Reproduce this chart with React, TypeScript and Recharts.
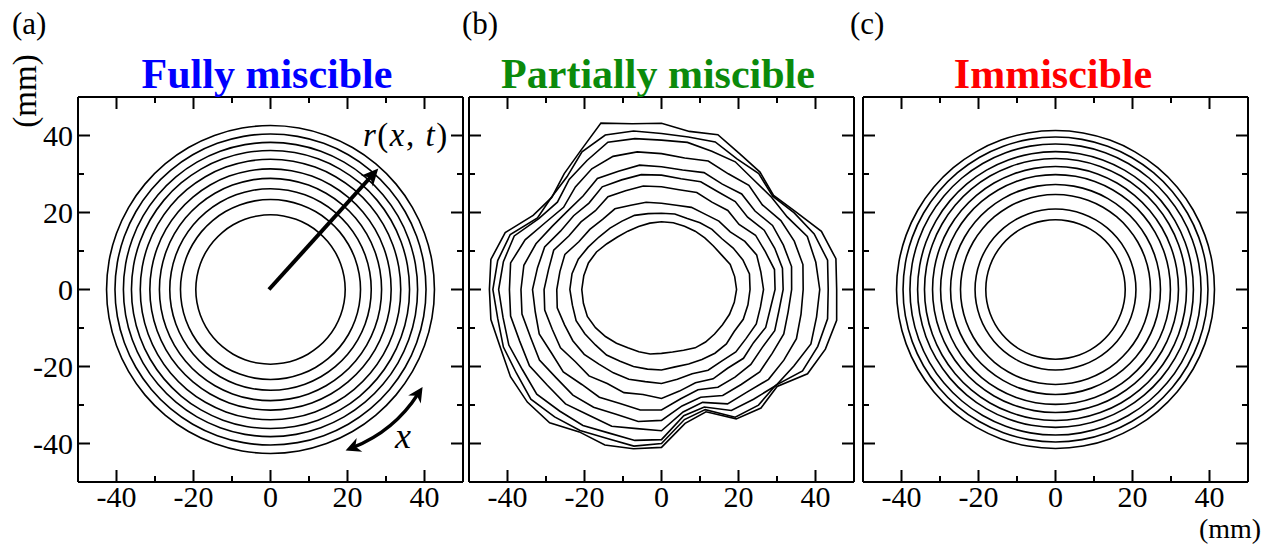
import React from 'react';
import { LineChart, Line, XAxis, YAxis, ReferenceLine } from 'recharts';

// polar sampling angles (degrees) used for every contour
const ANGLES = [0, 10, 20, 30, 40, 50, 60, 70, 80, 90, 100, 110, 120, 130, 140, 150, 160, 170,
  180, 190, 200, 210, 220, 230, 240, 250, 260, 270, 280, 290, 300, 310, 320, 330, 340, 350];

const TICKS = [-40, -30, -20, -10, 0, 10, 20, 30, 40];
const MAJOR_TICKS = [-40, -20, 0, 20, 40];

// (a) fully miscible: near-circular fronts, radius in mm
const RADII_A = [19.5, 23.5, 26.3, 29, 31.5, 34, 36.3, 38.4, 40.6, 42.8];

// (c) immiscible: circular fronts, radius in mm
const RADII_C = [18.2, 21, 24.8, 27.4, 30, 32.1, 34.2, 36, 38, 39.8, 41.5];

// (b) partially miscible: radius (mm) at each angle of ANGLES, one array per front
const B_RING_1 = [19.5, 19.3, 19, 18, 17.6, 17.5, 17.5, 17.5, 17.6, 17.6, 17.5, 17.4, 17.5, 17.8, 18.5, 19.5, 20.2, 20.5, 20.7, 20.6, 20.5, 19.8, 19, 18.2, 17.5, 17.2, 17, 16.6, 16.5, 16.8, 17.5, 17.8, 18, 18.3, 18.8, 19.2];
const B_RING_2 = [23, 23.2, 22.5, 21.5, 20.5, 20.4, 20, 19.6, 19.9, 19.8, 20, 20.5, 20.5, 20.8, 21.2, 22, 23, 23.6, 23.8, 23.5, 23.6, 23, 22.4, 22.2, 21.5, 21.3, 21, 20.9, 20.4, 20.6, 21, 21.6, 22, 21.8, 22.6, 22.8];
const B_RING_3 = [26.5, 26.2, 26.3, 25, 23.3, 23.2, 22.6, 22.7, 22.2, 22.4, 23, 23.3, 24.2, 23.8, 24.3, 24.8, 26.7, 26.8, 27.2, 27.5, 26.8, 26.6, 26.2, 25.3, 25, 24.8, 24.3, 24.4, 23.7, 23.3, 24.2, 24.3, 25.2, 25.4, 26.2, 26.1];
const B_RING_4 = [29.5, 29.8, 28.7, 28.2, 26.3, 26.8, 26.2, 26.8, 26.3, 26.7, 27.3, 27.3, 27.8, 26.7, 27.3, 27.8, 29.8, 29.8, 30.5, 30.8, 30.2, 30.3, 29.2, 29.3, 28.2, 28.5, 27.7, 28.3, 26.8, 25.8, 26.8, 26.7, 27.8, 27.6, 28.8, 28.7];
const B_RING_5 = [31.6, 31.9, 31.3, 30.8, 29.2, 29.8, 29.3, 29.8, 29.2, 29.7, 30.3, 30.3, 30.8, 29.3, 29.8, 30.3, 32.3, 32.7, 33.5, 33.3, 33.8, 33, 33.3, 32.2, 32.3, 31.5, 31.8, 31.3, 28.8, 27.7, 29.3, 29.7, 30.3, 30.2, 31.3, 31];
const B_RING_6 = [33.8, 34.3, 33.7, 33.3, 31.7, 32.4, 31.6, 32.3, 31.5, 31.9, 32.8, 32.7, 33.3, 31.7, 31.8, 32.8, 34.7, 36.3, 36.5, 36.8, 36.2, 36.6, 35.7, 35.8, 35.3, 34.5, 34.8, 34, 30.7, 29.8, 31.8, 32.2, 33.3, 33.2, 33.8, 33.4];
const B_RING_7 = [36.8, 37.3, 36.7, 35.8, 34.2, 35.3, 34.7, 35.5, 34.7, 35.3, 36.3, 36.8, 36.2, 34.8, 33.2, 34.8, 37.7, 39.8, 39.5, 39.8, 39.2, 39.6, 38.7, 38.8, 37.7, 37.8, 36.7, 36.7, 32.3, 31.2, 34.3, 34.7, 36.3, 36.7, 37.3, 36.8];
const B_RING_8 = [41.1, 40.7, 40.3, 37.7, 37.3, 37.2, 38.3, 38.2, 38.8, 38.8, 39.8, 40.7, 38.7, 37.3, 35.3, 36.8, 40.7, 41.7, 42.3, 41.8, 42.2, 41.7, 42.3, 41.2, 40.8, 39.7, 39.8, 39, 33.3, 32.5, 36.3, 37.2, 38.8, 39.7, 41.3, 40.9];
const B_RING_9 = [43.3, 43.8, 42.2, 39.8, 37.7, 39.3, 39.2, 40.8, 40.2, 40.5, 41.8, 42.7, 41.3, 38.2, 37.3, 37.2, 41.8, 43.2, 43.8, 43.2, 43.7, 43.5, 44.3, 43.2, 42.3, 41.2, 41.3, 40, 34.3, 33.2, 38.3, 39.2, 38.7, 42.3, 43.2, 43.8];
const B_RING_10 = [45.5, 46, 44.2, 40.3, 38, 39.8, 40.7, 42.8, 41.7, 43.2, 43.7, 46, 41.8, 39.3, 37.2, 38.5, 43.2, 45, 44.7, 45, 44.5, 45.3, 45.5, 45.2, 42.7, 43, 42, 41, 35.3, 33.8, 38.8, 40.2, 39.2, 43.8, 45.3, 46.2];

const RINGS_B = [B_RING_1, B_RING_2, B_RING_3, B_RING_4, B_RING_5, B_RING_6, B_RING_7, B_RING_8, B_RING_9, B_RING_10];

const W = 1274;
const H = 545;
const TOP = 97;
const BOTTOM = 482;
const AX = 1; // axis band size, kept tiny so margins place the frame
const FONT = '"Liberation Serif", "Times New Roman", serif';

const rad = (d: number) => (d * Math.PI) / 180;
const fromRadii = (radii: number[]) =>
  radii.map((r, i) => ({ x: r * Math.cos(rad(ANGLES[i])), y: r * Math.sin(rad(ANGLES[i])) }));
const fromRadius = (r: number) => fromRadii(ANGLES.map(() => r));

// inward ticks; labels only on major ticks
const makeTick = (side: string, withLabel: boolean) => (props: any) => {
  const { x, y, payload } = props;
  const v = payload.value;
  const len = MAJOR_TICKS.includes(v) ? 12 : 6;
  let x2 = x, y2 = y;
  if (side === 'bottom') y2 = y - len;
  if (side === 'top') y2 = y + len;
  if (side === 'left') x2 = x + len;
  if (side === 'right') x2 = x - len;
  const showLabel = withLabel && MAJOR_TICKS.includes(v);
  return (
    <g>
      <line x1={x} y1={y} x2={x2} y2={y2} stroke="#000" strokeWidth={2} />
      {showLabel && side === 'bottom' && (
        <text x={x} y={y + 25} textAnchor="middle" fontFamily={FONT} fontSize={30} fill="#000">{v}</text>
      )}
      {showLabel && side === 'left' && (
        <text x={x - 5} y={y + 10} textAnchor="end" fontFamily={FONT} fontSize={30} fill="#000">{v}</text>
      )}
    </g>
  );
};

const arrowHead = (tx: number, ty: number, ang: number, len: number, half: number) => {
  const c = Math.cos(ang), s = Math.sin(ang);
  const bx = tx - len * c, by = ty - len * s;
  const mx = tx - len * 0.7 * c, my = ty - len * 0.7 * s;
  return `M${tx},${ty} L${bx - s * half},${by + c * half} L${mx},${my} L${bx + s * half},${by - c * half} Z`;
};

const StraightArrow = (p: any) => {
  const { x1, y1, x2, y2 } = p;
  const ang = Math.atan2(y2 - y1, x2 - x1);
  const ex = x2 - 10 * Math.cos(ang), ey = y2 - 10 * Math.sin(ang);
  return (
    <g>
      <line x1={x1} y1={y1} x2={ex} y2={ey} stroke="#000" strokeWidth={4} />
      <path d={arrowHead(x2, y2, ang, 17, 8)} fill="#000" />
    </g>
  );
};

const CurvedArrow = (p: any) => {
  const { x1, y1, x2, y2 } = p;
  const dx = x2 - x1, dy = y2 - y1;
  const d = Math.hypot(dx, dy);
  const cx = (x1 + x2) / 2 + (-dy / d) * 16;
  const cy = (y1 + y2) / 2 + (dx / d) * 16;
  const a1 = Math.atan2(y1 - cy, x1 - cx);
  const a2 = Math.atan2(y2 - cy, x2 - cx);
  const s1x = x1 - 8 * Math.cos(a1), s1y = y1 - 8 * Math.sin(a1);
  const s2x = x2 - 8 * Math.cos(a2), s2y = y2 - 8 * Math.sin(a2);
  return (
    <g>
      <path d={`M${s1x},${s1y} Q${cx},${cy} ${s2x},${s2y}`} fill="none" stroke="#000" strokeWidth={3.5} />
      <path d={arrowHead(x1, y1, a1, 15, 7.5)} fill="#000" />
      <path d={arrowHead(x2, y2, a2, 15, 7.5)} fill="#000" />
    </g>
  );
};

const axisLine = { stroke: '#000', strokeWidth: 2 };

function Panel({ left, right, rings, curve, yLabels, children }: any) {
  const margin = { top: TOP - AX, bottom: H - BOTTOM - AX, left: left - AX, right: W - right - AX };
  return (
    <div style={{ position: 'absolute', left: 0, top: 0 }}>
      <LineChart width={W} height={H} margin={margin}>
        <XAxis xAxisId="b" orientation="bottom" type="number" dataKey="x" domain={[-50, 50]} allowDataOverflow
          ticks={TICKS} interval={0} height={AX} tickSize={0} tickMargin={0} tickLine={false}
          axisLine={axisLine} tick={makeTick('bottom', true)} />
        <XAxis xAxisId="t" orientation="top" type="number" dataKey="x" domain={[-50, 50]} allowDataOverflow
          ticks={TICKS} interval={0} height={AX} tickSize={0} tickMargin={0} tickLine={false}
          axisLine={axisLine} tick={makeTick('top', false)} />
        <YAxis yAxisId="l" orientation="left" type="number" dataKey="y" domain={[-50, 50]} allowDataOverflow
          ticks={TICKS} interval={0} width={AX} tickSize={0} tickMargin={0} tickLine={false}
          axisLine={axisLine} tick={makeTick('left', yLabels)} />
        <YAxis yAxisId="r" orientation="right" type="number" dataKey="y" domain={[-50, 50]} allowDataOverflow
          ticks={TICKS} interval={0} width={AX} tickSize={0} tickMargin={0} tickLine={false}
          axisLine={axisLine} tick={makeTick('right', false)} />
        {rings.map((pts: any, i: number) => (
          <Line key={i} xAxisId="b" yAxisId="l" data={pts} dataKey="y" type={curve}
            stroke="#000" strokeWidth={1.6} dot={false} activeDot={false} isAnimationActive={false} />
        ))}
        {children}
      </LineChart>
    </div>
  );
}

export default function App() {
  const ringsA = RADII_A.map(fromRadius);
  const ringsB = RINGS_B.map(fromRadii);
  const ringsC = RADII_C.map(fromRadius);
  const title = { fontFamily: FONT, fontSize: 42, fontWeight: 'bold' as const, textAnchor: 'middle' as const };
  const small = { fontFamily: FONT, fontSize: 31, fill: '#000' };
  return (
    <div style={{ position: 'absolute', left: 0, top: 0, width: W, height: H, background: '#fff' }}>
      <Panel left={78} right={463} rings={ringsA} curve="basisClosed" yLabels>
        <ReferenceLine xAxisId="b" yAxisId="l" segment={[{ x: -0.4, y: 0 }, { x: 28, y: 31.4 }]}
          ifOverflow="visible" shape={StraightArrow} />
        <ReferenceLine xAxisId="b" yAxisId="l" segment={[{ x: 19.5, y: -41.8 }, { x: 39.5, y: -25.3 }]}
          ifOverflow="visible" shape={CurvedArrow} />
      </Panel>
      <Panel left={469} right={854} rings={ringsB} curve="linearClosed" yLabels={false} />
      <Panel left={863} right={1248} rings={ringsC} curve="basisClosed" yLabels={false} />
      <svg width={W} height={H} style={{ position: 'absolute', left: 0, top: 0, pointerEvents: 'none' }}>
        <text x={12} y={34} {...small}>(a)</text>
        <text x={462} y={34} {...small}>(b)</text>
        <text x={850} y={34} {...small}>(c)</text>
        <text x={267} y={88} fill="#0000ff" {...title}>Fully miscible</text>
        <text x={658} y={88} fill="#0b8a0b" {...title}>Partially miscible</text>
        <text x={1053} y={88} fill="#ff0000" {...title}>Immiscible</text>
        <text x={36} y={91} transform="rotate(-90 36 91)" textAnchor="middle" fontFamily={FONT} fontSize={33} fill="#000">(mm)</text>
        <text x={1230} y={538} textAnchor="middle" fontFamily={FONT} fontSize={28} fill="#000">(mm)</text>
        <text x={363} y={146} fontFamily={FONT} fontSize={33} letterSpacing={1.5} fill="#000">
          <tspan fontStyle="italic">r</tspan>
          <tspan>(</tspan>
          <tspan fontStyle="italic">x</tspan>
          <tspan>, </tspan>
          <tspan fontStyle="italic">t</tspan>
          <tspan>)</tspan>
        </text>
        <text x={395} y={448} fontFamily={FONT} fontSize={36} fontStyle="italic" fill="#000">x</text>
      </svg>
    </div>
  );
}
